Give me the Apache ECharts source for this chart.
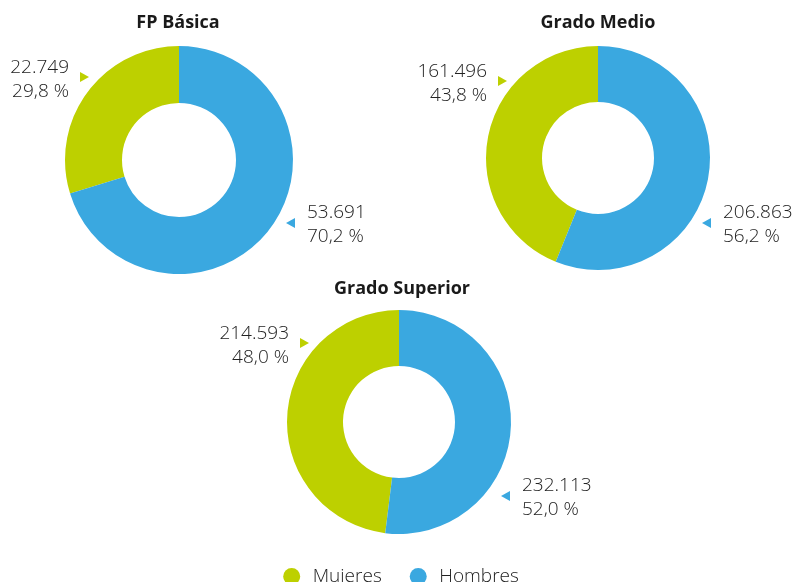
<!DOCTYPE html>
<html>
<head>
<meta charset="utf-8">
<script src="https://cdn.jsdelivr.net/npm/echarts@6/dist/echarts.min.js"></script>
<style>
  html, body { margin: 0; padding: 0; background: #fff; }
  #main { width: 802px; height: 582px; }
</style>
</head>
<body>
<div id="main"></div>
<script>
// datos
var categories = ['Mujeres', 'Hombres'];
var titles = ['FP Básica', 'Grado Medio', 'Grado Superior'];
var mujeres = [22749, 161496, 214593];
var hombres = [53691, 206863, 232113];
var colors = ['#bdd000', '#3aa8e0'];

// posicion de cada donut y de sus etiquetas
var layout = [
  { center: [179, 160], r: [57, 114], title: [173, 9], left: [69, 80], right: [307, 225] },
  { center: [598, 158], r: [56, 112], title: [593, 9], left: [487, 84], right: [723, 225] },
  { center: [399, 422], r: [56, 112], title: [397, 275], left: [289, 346], right: [522, 498] }
];

var font = '"Open Sans", Lato, sans-serif';

function fmtNum(v) {
  return String(v).replace(/\B(?=(\d{3})+(?!\d))/g, '.');
}
function fmtPct(p) {
  return p.toFixed(1).replace('.', ',') + ' %';
}

var myChart = echarts.init(document.getElementById('main'));

var series = [];
var title = [];
var graphic = [];
titles.forEach(function (t, i) {
  var L = layout[i];
  title.push({
    text: t,
    left: L.title[0],
    top: L.title[1],
    textAlign: 'center',
    textStyle: { fontFamily: font, fontSize: 18, fontWeight: 'bold', color: '#1a1a1a' }
  });
  var total = mujeres[i] + hombres[i];
  series.push({
    type: 'pie',
    center: L.center,
    radius: L.r,
    startAngle: 90,
    clockwise: false,
    silent: true,
    data: [
      { name: categories[0], value: mujeres[i], label: { align: 'right' } },
      { name: categories[1], value: hombres[i], label: { align: 'left' } }
    ],
    label: {
      show: true,
      position: 'outside',
      overflow: 'none',
      fontFamily: font,
      fontSize: 19,
      fontWeight: 300,
      lineHeight: 24,
      color: '#222',
      formatter: function (p) {
        return fmtNum(p.value) + '\n' + fmtPct(p.value / total * 100);
      }
    },
    labelLine: { show: false },
    labelLayout: (function (L) {
      return function (p) {
        if (p.dataIndex === 0) {
          return { x: L.left[0], y: L.left[1], align: 'right', verticalAlign: 'middle' };
        }
        return { x: L.right[0], y: L.right[1], align: 'left', verticalAlign: 'middle' };
      };
    })(L)
  });
  // triangulos junto a las etiquetas
  var lx = L.left[0] + 11, ly = L.left[1] - 3;
  graphic.push({
    type: 'polygon', silent: true,
    shape: { points: [[lx, ly - 5], [lx + 9, ly], [lx, ly + 5]] },
    style: { fill: colors[0] }
  });
  var rx = L.right[0] - 21, ry = L.right[1] - 2;
  graphic.push({
    type: 'polygon', silent: true,
    shape: { points: [[rx, ry], [rx + 9, ry - 5], [rx + 9, ry + 5]] },
    style: { fill: colors[1] }
  });
});

var option = {
  color: colors,
  title: title,
  legend: {
    data: categories,
    left: 'center',
    top: 562,
    icon: 'circle',
    itemWidth: 32,
    itemHeight: 17,
    itemGap: 28,
    textStyle: { fontFamily: font, fontSize: 19, fontWeight: 300, color: '#222' }
  },
  graphic: graphic,
  series: series
};
myChart.setOption(option);
</script>
</body>
</html>
